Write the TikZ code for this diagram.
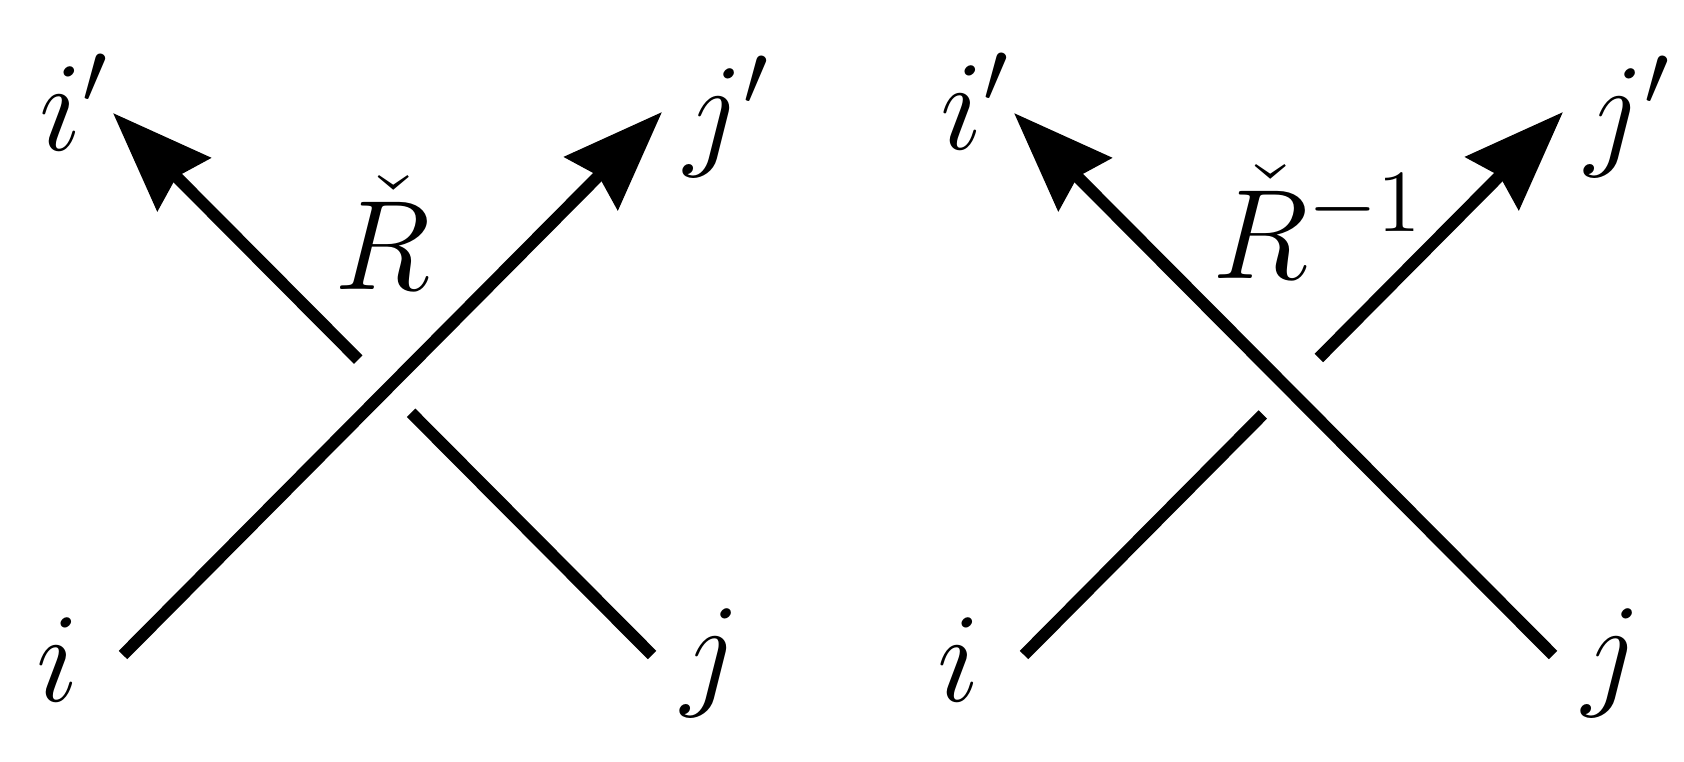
\documentclass[tikz,border=0pt]{standalone}
\usetikzlibrary{arrows.meta,calc}

\tikzset{
  strand/.style={line width=3.4pt},
  arrowstrand/.style={strand, -{Stealth[length=10mm, width=7.4mm, inset=1mm]}},
  lbl/.style={font=\huge, scale=1.75, inner sep=0pt, anchor=base}
}

\begin{document}
\begin{tikzpicture}
  \useasboundingbox (0,0) rectangle (16.84,7.61);

  % Define coordinates: left crossing
  \coordinate (i1) at (1.23,1.06);
  \coordinate (j1) at (6.52,1.06);
  \coordinate (ip1) at (1.13,6.48);
  \coordinate (jp1) at (6.62,6.49);
  \coordinate (g1a) at ($(j1)!0.447!(ip1)$);
  \coordinate (g1b) at ($(j1)!0.545!(ip1)$);

  % Define coordinates: right crossing
  \coordinate (i2) at (10.24,1.06);
  \coordinate (j2) at (15.53,1.06);
  \coordinate (ip2) at (10.14,6.48);
  \coordinate (jp2) at (15.63,6.49);
  \coordinate (g2a) at ($(i2)!0.443!(jp2)$);
  \coordinate (g2b) at ($(i2)!0.547!(jp2)$);

  % Draw strands
  \draw[arrowstrand] (i1) -- (jp1); % over strand
  \draw[strand] (j1) -- (g1a);
  \draw[arrowstrand] (g1b) -- (ip1);

  \draw[arrowstrand] (j2) -- (ip2); % over strand
  \draw[strand] (i2) -- (g2a);
  \draw[arrowstrand] (g2b) -- (jp2);

  % Labels
  \node[lbl] (li1) at (0.58,0.60) {$i$};
  \node[lbl] (lj1) at (7.11,0.69) {$j$};
  \node[lbl] (lip1) at (0.75,6.11) {$i'$};
  \node[lbl] (ljp1) at (7.28,6.09) {$j'$};
  \node[lbl] (R1) at (3.83,4.72) {$\check{R}$};

  \node[lbl] (li2) at (9.59,0.60) {$i$};
  \node[lbl] (lj2) at (16.12,0.69) {$j$};
  \node[lbl] (lip2) at (9.76,6.12) {$i'$};
  \node[lbl] (ljp2) at (16.29,6.09) {$j'$};
  \node[lbl] (R2) at (13.18,4.83) {$\check{R}^{-1}$};

\end{tikzpicture}
\end{document}
